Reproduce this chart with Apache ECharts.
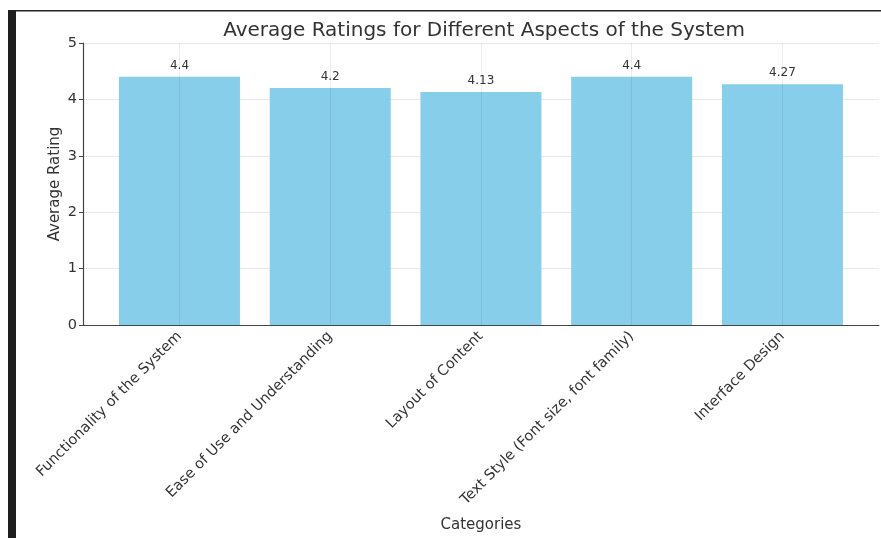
<!DOCTYPE html>
<html>
<head>
<meta charset="utf-8">
<script src="https://cdn.jsdelivr.net/npm/echarts@6/dist/echarts.min.js"></script>
<style>
  html, body { margin: 0; padding: 0; background: #fff; }
  #chart { width: 881px; height: 538px; }
</style>
</head>
<body>
<div id="chart"></div>
<script>
const categories = [
  'Functionality of the System',
  'Ease of Use and Understanding',
  'Layout of Content',
  'Text Style (Font size, font family)',
  'Interface Design',
];
const ratings = [4.4, 4.2, 4.13, 4.4, 4.27];
const yTicks = [0, 1, 2, 3, 4, 5];

const chart = echarts.init(document.getElementById('chart'));

// bars sit at integer positions on a value axis, like matplotlib's xlim with margins
const barData = ratings.map((v, i) => [i, v]);
const font = 'DejaVu Sans, Noto Sans, sans-serif';
const isCat = (v) => Math.abs(v - Math.round(v)) < 1e-6 && categories[Math.round(v)] !== undefined;
const yMin = yTicks[0];
const yMax = yTicks[yTicks.length - 1];

const option = {
  animation: false,
  backgroundColor: '#fff',
  title: {
    text: 'Average Ratings for Different Aspects of the System',
    left: 479,
    textAlign: 'center',
    top: 16,
    textStyle: { fontFamily: font, fontSize: 20, fontWeight: 'normal', color: '#333' },
  },
  grid: { left: 83, top: 43, right: -4, bottom: 213, containLabel: false },
  xAxis: {
    type: 'value',
    min: -0.64,
    max: categories.length - 1 + 0.64,
    interval: 0.04, // -0.64 is a multiple, so integer positions get a tick
    name: 'Categories',
    nameLocation: 'middle',
    nameGap: 193,
    nameMoveOverlap: false,
    nameTextStyle: { fontFamily: font, fontSize: 15, color: '#333' },
    axisLine: { show: true, onZero: false, lineStyle: { color: '#444', width: 1.2 } },
    axisTick: { show: false },
    splitLine: { show: false },
    axisLabel: {
      rotate: 45,
      margin: 9,
      fontFamily: font,
      fontSize: 14.5,
      color: '#333',
      hideOverlap: false,
      formatter: (v) => (isCat(v) ? categories[Math.round(v)] : ''),
    },
  },
  yAxis: {
    type: 'value',
    min: yMin,
    max: yMax,
    interval: 1,
    name: 'Average Rating',
    nameLocation: 'middle',
    nameGap: 20,
    nameMoveOverlap: false,
    nameTextStyle: { fontFamily: font, fontSize: 15, color: '#333' },
    axisLine: { show: true, onZero: false, lineStyle: { color: '#444', width: 1.2 } },
    axisTick: { show: true, inside: false, length: 4, lineStyle: { color: '#444' } },
    axisLabel: { fontFamily: font, fontSize: 14.5, color: '#333', margin: 6 },
    splitLine: { show: true, lineStyle: { color: '#e8e8e8', width: 1 } },
  },
  series: [
    {
      type: 'bar',
      data: barData,
      barWidth: 121,
      itemStyle: { color: '#87CEEB' },
      label: {
        show: true,
        position: 'top',
        distance: 5,
        fontFamily: font,
        fontSize: 12,
        color: '#333',
        formatter: (p) => String(p.value[1]),
      },
      // faint vertical grid at each category
      markLine: {
        silent: true,
        symbol: ['none', 'none'],
        label: { show: false },
        lineStyle: { color: 'rgba(0,0,0,0.07)', type: 'solid', width: 1 },
        data: categories.map((c, i) => [{ coord: [i, yMin] }, { coord: [i, yMax] }]),
      },
    },
  ],
  graphic: [
    { type: 'rect', shape: { x: 8, y: 10, width: 8, height: 528 }, style: { fill: '#1e1e1e' }, z: 100 },
    { type: 'rect', shape: { x: 8, y: 10, width: 873, height: 1.5 }, style: { fill: '#222' }, z: 100 },
  ],
};

chart.setOption(option);
</script>
</body>
</html>
